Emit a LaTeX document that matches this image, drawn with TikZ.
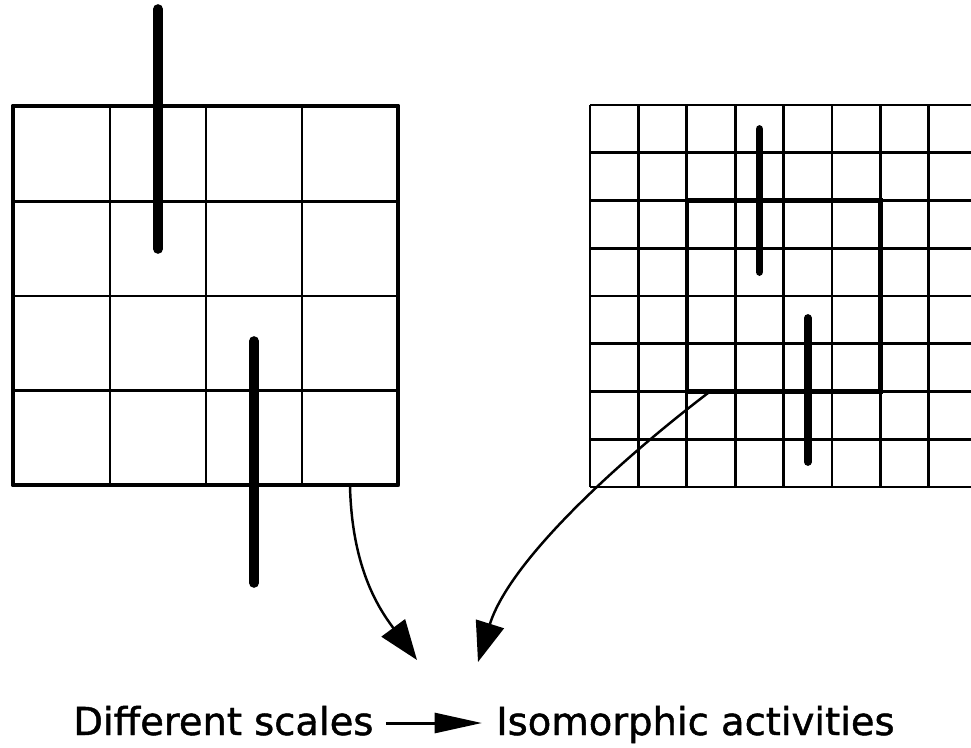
\documentclass[tikz,border=0pt]{standalone}
\usepackage{tikz}
\usepackage{fontspec}
\newfontfamily\captionfont[FakeBold=1.2]{DejaVu Sans}
\usetikzlibrary{arrows.meta}
\tikzset{
  gridline/.style={line width=1.6pt},
  gridframe/.style={line width=2.8pt, line join=round},
  blockframe/.style={line width=2.6pt},
  bar/.style={line width=5.5pt, line cap=round},
  flow/.style={line width=1.4pt, -{Triangle[length=8mm, width=5.8mm]}},
  caption/.style={font=\captionfont\fontsize{21.9}{24}\selectfont, inner sep=0pt,
    text height=4.8mm, text depth=0pt},
}

\begin{document}
\begin{tikzpicture}[x=0.2mm, y=-0.2mm]
  \useasboundingbox (0,0) rectangle (971,747);
  % coarse grid, 4 x 4
  \foreach \x in {110,206,302}
    \draw[gridline] (\x,106) -- (\x,485);
  \foreach \y in {201.5,296,390.5}
    \draw[gridline] (13,\y) -- (398,\y);
  \draw[gridframe] (13,106) rectangle (398,485);
  \draw[bar] (158,9) -- (158,249);
  \draw[bar] (254,341) -- (254,583);
  % fine grid, runs off the right edge
  \foreach \i in {0,...,7}
    \draw[gridline] (590+48.4*\i,105) -- (590+48.4*\i,487);
  \foreach \j in {0,...,8}
    \draw[gridline] (590,105+47.75*\j) -- (971,105+47.75*\j);
  \draw[blockframe] (686.8,200.5) rectangle (880.4,391.5);
  \draw[bar, line width=4.4pt] (759.4,129) -- (759.4,272);
  \draw[bar, line width=4.4pt] (807.8,318) -- (807.8,462);
  % exits and tips of the two arrows
  \coordinate (coarse exit) at (350,486);
  \coordinate (fine exit) at (710,391.5);
  \coordinate (coarse tip) at (417,660);
  \coordinate (fine tip) at (478,662);
  \draw[flow] (coarse exit) .. controls (352,570) and (380,610) .. (coarse tip);
  \draw[flow] (fine exit) .. controls (620,460) and (510,560) .. (fine tip);
  % caption
  \node[caption, anchor=base west] (scales) at (73,735) {Different scales};
  \node[caption, anchor=base west] (iso) at (496,735) {Isomorphic activities};
  \draw[line width=1.7pt, shorten <=2.4mm, shorten >=2.8mm,
    -{Triangle[length=9.5mm, width=4mm]}] (scales) -- (iso);
\end{tikzpicture}
\end{document}
